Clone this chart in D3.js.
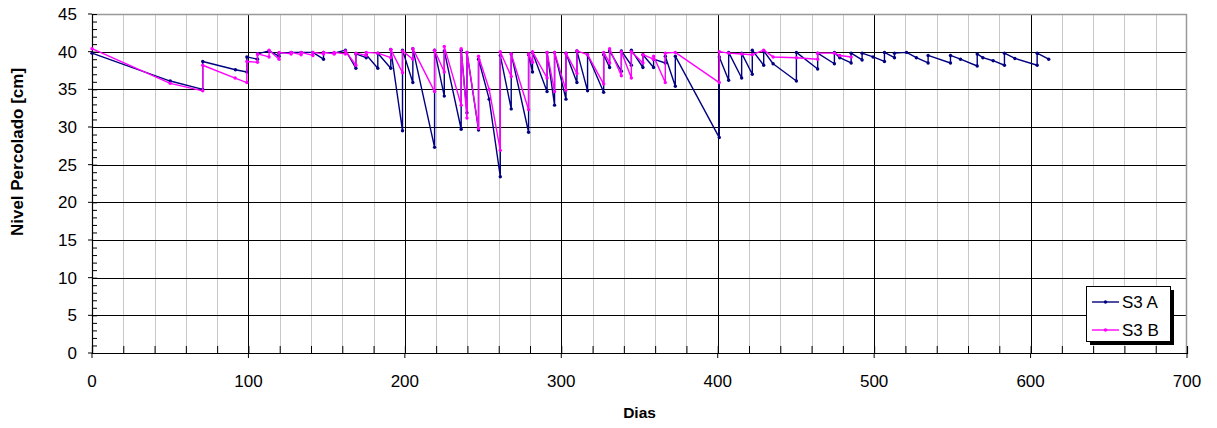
<!DOCTYPE html>
<html>
<head>
<meta charset="utf-8">
<script src="https://cdn.jsdelivr.net/npm/d3@7"></script>
<style>
  html, body { margin: 0; padding: 0; background: #fff; }
  svg { display: block; }
  text { font-family: "Liberation Sans", Arial, sans-serif; fill: #000; }
</style>
</head>
<body>
<svg id="chart" width="1217" height="428"></svg>
<script>
// Percolated level readings, [day, level in cm]; repeated days are refills
const seriesNames = ["S3 A", "S3 B"];
const seriesColors = ["#000080", "#ff00ff"];

const s3a = [
  [0, 39.8], [50, 36.1], [70.8, 35.0], [70.8, 38.7], [91.7, 37.6], [99, 37.3], [99, 39.3],
  [105.8, 39.0], [105.8, 39.7], [113.2, 40.1], [119.6, 39.4], [119.6, 39.8], [127.3, 39.9],
  [133.7, 39.9], [141.2, 39.9], [148, 39.0], [148, 39.9], [154.8, 39.8], [162, 40.2],
  [168.7, 37.8], [168.7, 39.7], [175.3, 39.2], [175.3, 39.6], [182.7, 37.8], [182.7, 39.8],
  [191, 37.8], [191, 40.3], [198.5, 29.5], [198.5, 40.2], [205.1, 35.9], [205.1, 40.4],
  [219, 27.3], [219, 40.2], [225.2, 34.1], [225.2, 40.1], [236, 29.7], [236, 40.2],
  [239.7, 31.9], [239.7, 39.9], [247.1, 29.6], [247.1, 39.0], [253.9, 33.7], [261, 23.4],
  [261, 39.5], [268, 32.4], [268, 39.7], [279.1, 29.3], [279.1, 39.6], [281.6, 37.3],
  [281.6, 39.9], [290.9, 34.7], [290.9, 39.9], [295.7, 32.9], [295.7, 39.9], [303, 33.7],
  [303, 39.8], [310, 35.9], [310, 40.1], [316.8, 34.8], [316.8, 39.6], [327.1, 34.6],
  [327.1, 39.6], [330.9, 37.9], [330.9, 40.1], [338.4, 37.4], [338.4, 40.1], [344.8, 38.2],
  [344.8, 40.2], [352.2, 37.9], [352.2, 39.6], [359, 37.9], [359, 39.0], [366.5, 38.5],
  [366.5, 39.4], [372.9, 35.4], [372.9, 39.4], [401, 28.6], [401, 39.3], [407, 36.2],
  [407, 39.9], [415.3, 36.5], [415.3, 39.8], [422.1, 37.0], [422.1, 40.2], [429.4, 38.2],
  [429.4, 40.1], [435.4, 38.4], [450.3, 36.1], [450.3, 39.9], [463.9, 37.7], [463.9, 39.8],
  [474.6, 38.4], [474.6, 39.9], [478, 39.2], [485.3, 38.5], [485.3, 39.8], [492.3, 38.9],
  [492.3, 39.8], [499.3, 39.3], [506.6, 38.7], [506.6, 39.9], [513, 39.2], [513, 39.8],
  [520.7, 39.9], [527, 39.2], [534.5, 38.5], [534.5, 39.5], [548.8, 38.5], [548.8, 39.5],
  [555.2, 39.0], [565.9, 38.1], [565.9, 39.7], [569.5, 39.2], [576.1, 38.8], [583.3, 38.2],
  [583.3, 39.8], [590, 39.1], [604.2, 38.2], [604.2, 39.8], [611.6, 39.0]
];

const s3b = [
  [0, 40.4], [50, 35.8], [70.8, 34.8], [70.8, 38.2], [91.5, 36.5], [99, 35.9], [99, 38.7],
  [105.8, 38.6], [105.8, 39.7], [113.2, 39.3], [113.2, 40.2], [119.6, 39.0], [119.6, 39.9],
  [127.3, 39.7], [127.3, 39.9], [133.7, 39.6], [133.7, 39.9], [141.2, 39.5], [141.2, 39.9],
  [148, 39.7], [148, 39.9], [154.8, 39.7], [154.8, 39.9], [162, 39.7], [162, 40.1],
  [168.7, 38.2], [168.7, 39.8], [175.3, 39.5], [175.3, 39.9], [182.7, 39.8], [191, 39.2],
  [191, 40.3], [198.5, 37.2], [198.5, 40.1], [205.1, 39.0], [205.1, 40.4], [219, 34.7],
  [219, 40.2], [225.2, 37.3], [225.2, 40.7], [236, 32.9], [236, 40.4], [239.7, 31.2],
  [239.7, 39.9], [247.1, 29.8], [247.1, 39.4], [253.9, 35.0], [261, 26.9], [261, 40.0],
  [268, 36.7], [268, 39.7], [279.1, 32.3], [279.1, 39.7], [281.6, 38.6], [281.6, 40.0],
  [290.9, 36.5], [290.9, 39.9], [295.7, 34.7], [295.7, 39.9], [303, 34.9], [303, 39.8],
  [310, 37.1], [310, 40.1], [316.8, 39.6], [327.1, 35.7], [327.1, 39.9], [330.9, 38.5],
  [330.9, 40.4], [338.4, 36.8], [338.4, 40.0], [344.8, 36.5], [344.8, 40.0], [352.2, 38.5],
  [352.2, 39.6], [359, 39.0], [359, 39.4], [366.5, 35.9], [366.5, 39.8], [372.9, 39.9],
  [401, 35.9], [401, 40.0], [407, 39.8], [415.3, 39.7], [422.1, 39.6], [429.4, 40.2],
  [435.4, 39.3], [450.3, 39.2], [463.9, 39.0], [463.9, 39.8], [474.6, 39.8], [478, 39.5],
  [485.3, 39.3]
];

const xTicks = [0, 100, 200, 300, 400, 500, 600, 700];
const yTicks = [0, 5, 10, 15, 20, 25, 30, 35, 40, 45];
const xTitle = "Dias";
const yTitle = "Nivel Percolado [cm]";

const svg = d3.select("#chart");
const plot = { left: 92, top: 14, right: 1187, bottom: 353 };

const x = d3.scaleLinear().domain([0, 700]).range([plot.left, plot.right]);
const y = d3.scaleLinear().domain([0, 45]).range([plot.bottom, plot.top]);

// minor vertical grid every 20 days
const minorX = d3.range(20, 700, 20).filter(d => d % 100 !== 0);
svg.append("g").selectAll("line").data(minorX).join("line")
  .attr("x1", d => Math.round(x(d)) + 0.5).attr("x2", d => Math.round(x(d)) + 0.5)
  .attr("y1", plot.top).attr("y2", plot.bottom)
  .attr("stroke", "#c8c8c8").attr("stroke-width", 1);

// major grid
svg.append("g").selectAll("line").data(xTicks.slice(1, -1)).join("line")
  .attr("x1", d => Math.round(x(d)) + 0.5).attr("x2", d => Math.round(x(d)) + 0.5)
  .attr("y1", plot.top).attr("y2", plot.bottom)
  .attr("stroke", "#000").attr("stroke-width", 1);
svg.append("g").selectAll("line").data(yTicks.slice(1, -1)).join("line")
  .attr("x1", plot.left).attr("x2", plot.right)
  .attr("y1", d => Math.round(y(d)) + 0.5).attr("y2", d => Math.round(y(d)) + 0.5)
  .attr("stroke", "#000").attr("stroke-width", 1);

// plot frame: top and right in gray
svg.append("line").attr("x1", plot.left).attr("x2", plot.right)
  .attr("y1", plot.top + 0.5).attr("y2", plot.top + 0.5).attr("stroke", "#999").attr("stroke-width", 1.5);
svg.append("line").attr("x1", plot.right - 0.5).attr("x2", plot.right - 0.5)
  .attr("y1", plot.top).attr("y2", plot.bottom).attr("stroke", "#999").attr("stroke-width", 1.5);

// axes
const xAxis = d3.axisBottom(x).tickValues(d3.range(0, 701, 20)).tickSize(-7).tickFormat("");
const gx = svg.append("g").attr("transform", `translate(0,${plot.bottom})`).call(xAxis);
gx.select(".domain").attr("stroke", "#000").attr("stroke-width", 1.2);
gx.selectAll(".tick line").attr("stroke", "#000");
svg.append("g").selectAll("line").data(xTicks).join("line")
  .attr("x1", d => x(d)).attr("x2", d => x(d))
  .attr("y1", plot.bottom).attr("y2", plot.bottom + 5).attr("stroke", "#000");

const yAxis = d3.axisLeft(y).tickValues(d3.range(0, 46, 1)).tickSize(-5).tickFormat("");
const gy = svg.append("g").attr("transform", `translate(${plot.left},0)`).call(yAxis);
gy.select(".domain").attr("stroke", "#000").attr("stroke-width", 1.2);
gy.selectAll(".tick line").attr("stroke", "#000");
svg.append("g").selectAll("line").data(yTicks).join("line")
  .attr("x1", plot.left - 4).attr("x2", plot.left)
  .attr("y1", d => y(d)).attr("y2", d => y(d)).attr("stroke", "#000");

// tick labels
svg.append("g").selectAll("text").data(xTicks).join("text")
  .attr("x", d => x(d)).attr("y", plot.bottom + 34)
  .attr("text-anchor", "middle").style("font-size", "17px")
  .text(d => d);
svg.append("g").selectAll("text").data(yTicks).join("text")
  .attr("x", plot.left - 15).attr("y", d => y(d) + 6)
  .attr("text-anchor", "end").style("font-size", "17px")
  .text(d => d);

// axis titles
svg.append("text").attr("x", (plot.left + plot.right) / 2).attr("y", 418)
  .attr("text-anchor", "middle").style("font-size", "15.5px").style("font-weight", "bold")
  .text(xTitle);
svg.append("text").attr("transform", "translate(23,152) rotate(-90)")
  .attr("text-anchor", "middle").style("font-size", "17px").style("font-weight", "bold")
  .text(yTitle);

// series
const line = d3.line().x(d => x(d[0])).y(d => y(d[1]));
[s3a, s3b].forEach((data, i) => {
  const g = svg.append("g");
  g.append("path").datum(data).attr("d", line)
    .attr("fill", "none").attr("stroke", seriesColors[i]).attr("stroke-width", 1.4)
    .attr("stroke-linejoin", "round");
  g.selectAll("circle").data(data).join("circle")
    .attr("cx", d => x(d[0])).attr("cy", d => y(d[1])).attr("r", 1.7)
    .attr("fill", seriesColors[i]);
});

// legend with drop shadow
const lg = svg.append("g").attr("transform", "translate(1086,286)");
lg.append("rect").attr("x", 4).attr("y", 4).attr("width", 84).attr("height", 55).attr("fill", "#000");
lg.append("rect").attr("x", 0.5).attr("y", 0.5).attr("width", 84).attr("height", 55)
  .attr("fill", "#fff").attr("stroke", "#000").attr("stroke-width", 1);
seriesNames.forEach((name, i) => {
  const ly = 16 + i * 28;
  lg.append("line").attr("x1", 6).attr("x2", 33).attr("y1", ly).attr("y2", ly)
    .attr("stroke", seriesColors[i]).attr("stroke-width", 1.4);
  lg.append("circle").attr("cx", 19.5).attr("cy", ly).attr("r", 1.7).attr("fill", seriesColors[i]);
  lg.append("text").attr("x", 36).attr("y", ly + 6).style("font-size", "17px").text(name);
});
</script>
</body>
</html>
